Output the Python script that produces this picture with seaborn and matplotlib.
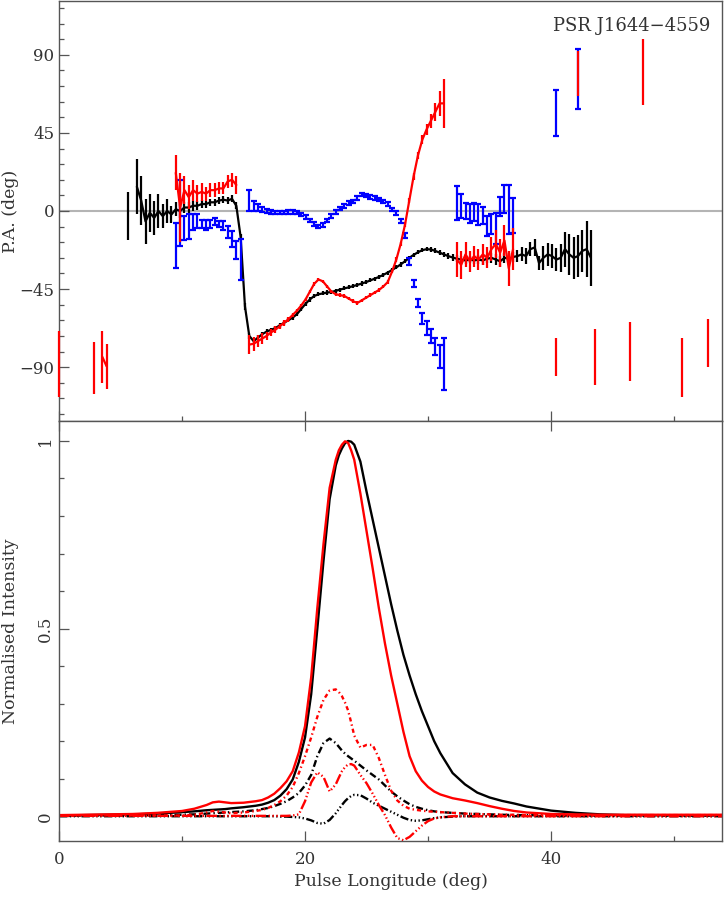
"""
Polarisation profile of PSR J1644-4559 at two frequencies:
position angle swing (top) and normalised Stokes profiles (bottom).
"""

import numpy as np
import pandas as pd
import seaborn as sns
import matplotlib

matplotlib.use("Agg")
from matplotlib import pyplot as plt
from matplotlib.ticker import MultipleLocator

nan = np.nan
BIN_DEG = 360.0 / 1024  # profile bin width in degrees
N_BINS = 154

# ---------------------------------------------------------------- P.A. data
# black: first bin 16, one value per bin
black_pa_start = 16
black_pa = [
    -3, nan, 14, 6, -6, -1, -4, 0, -3, 0,
    -2, 1, 0, 2, 2, 3, 3, 4, 4, 5,
    5, 6, 6.5, 6, 7, 3, -15, -55, -72, -75,
    -73, -71, -69.5, -68.5, -67.5, -66, -64.5, -63, -61.5, -59.5,
    -56.5, -53.5, -51, -49, -48, -47.5, -47, -46.7, -46, -45.3,
    -44.6, -44, -43.3, -42.6, -41.8, -41, -40, -39, -38, -36.8,
    -35.5, -34, -32.5, -30.8, -29, -27, -25.3, -23.8, -22.6, -22,
    -22.2, -23, -24, -25, -26, -26.8, -27.5, -28, -28.5, -28,
    -28.5, -28, -28.5, -27.5, -27, -28, -29, -27, -27.5, -26.5,
    -26, -25, -26, -22, -21, -30, -27, -25, -26, -28,
    -27, -22, -25, -27, -26, -23, -22, -27,
]
black_pa_err = [
    14, nan, 16, 14, 13, 11, 10, 10, 7, 7,
    5, 4, 4, 3, 3, 3, 2.5, 2.5, 2, 2,
    2, 2, 2, 2, 2, 2, 2, 2, 1.5, 1.5,
    1.3, 1.3, 1.3, 1.2, 1.2, 1.2, 1.2, 1.2, 1.2, 1.2,
    1.2, 1.2, 1.2, 1.2, 1.2, 1.2, 1.2, 1.2, 1.2, 1.2,
    1.2, 1.2, 1.2, 1.2, 1.2, 1.2, 1.2, 1.2, 1.2, 1.2,
    1.2, 1.2, 1.2, 1.2, 1.2, 1.2, 1.2, 1.2, 1.2, 1.2,
    1.5, 1.5, 1.5, 1.5, 1.5, 2, 2, 2, 2, 2,
    2, 2.5, 2.5, 2.5, 3, 3, 3, 3, 3, 3,
    3.5, 4, 4.5, 4, 5, 4, 7, 6.5, 7, 6.5,
    8, 10, 12, 12, 12, 12, 16, 16,
]

# red: contiguous runs (first bin, values, errors)
red_pa_runs = [
    (27, [22, 2, 12, 8, 12, 10, 11, 10, 12, 12, 13, 13, 17, 18, 15],
         [10, 20, 8, 7, 6, 5, 5, 4, 4, 4, 3.5, 3.5, 4, 4, 5]),
    (44, [-77, -76.5, -75, -73.5, -72, -70, -68.5, -66.5, -64.5, -62.5,
          -60, -57.5, -54.5, -51, -46.5, -42, -39.5, -40.5, -43.5, -46.5,
          -48, -48.5, -49, -50.5, -52, -53, -51.5, -50, -48.5, -47,
          -45.5, -43.5, -41, -35, -28, -19, -8, 6, 20, 32,
          41, 47, 52, 57, 62, 62],
         [5.5, 4, 3.5, 3, 2.5, 2, 2, 1.5, 1.5, 1.2,
          1.2, 1, 1, 1, 1, 1, 1, 1, 1, 1,
          1, 1, 1, 1, 1, 1, 1, 1, 1, 1,
          1, 1, 1, 1, 1.2, 1.2, 1.5, 1.5, 2, 2,
          2.5, 3, 4, 5, 7, 14]),
    (92, [-28, -31, -25, -29, -26, -28, -25, -27, -22, -19, -24, -17, -33, -22],
         [10, 8, 7, 6, 6, 6, 6, 6, 7, 8, 8, 9, 10, 12]),
]
red_pa_sparse_bins = [0, 8, 10, 11, 115, 120, 124, 132, 135, 144, 150]
red_pa_sparse = [-88, -90.5, -84, -89.5, -84, 79, -84, -81, 80, -90, -76]
red_pa_sparse_err = [19, 15, 15, 13, 11, 13, 16, 17, 19, 17, 14]

# blue: contiguous runs (first bin, values, errors)
blue_pa_runs = [
    (27, [-20, -1, -10, -9, -6.5, -6, -7.5, -8, -7.5, -6, -7.5, -8.5, -12, -16, -22.5, -28],
         [13, 19, 7, 7, 4.6, 4, 2.5, 3, 2.2, 2, 2, 2.5, 3.5, 4.5, 5, 12]),
    (44, [6, 3, 2, 1, 0, -0.5, -1, -1, -1, -0.5,
          -0.5, -1, -2, -3.5, -5.5, -7.5, -9, -8, -5.5, -3,
          -0.5, 1.5, 3, 4.5, 5.5, 7.5, 9.5, 9, 8, 7.5,
          6.5, 5.5, 4, 1, -1, -6, -14, -29, -42, -53,
          -62, -67.5, -72, -78, -84, -88],
         [6, 3, 2, 1.5, 1, 1, 1, 1, 1, 1,
          1, 1, 1, 1, 1, 1, 1, 1, 1, 1,
          1, 1, 1, 1, 1, 1, 1, 1, 1, 1,
          1, 1, 1, 1, 1.2, 1.2, 1.5, 2, 2, 2.5,
          3, 4, 4, 5, 6.5, 15]),
    (92, [4.6, 3, 0, -1.5, -0.5, -2, -2.5, -8.7, -7.5, -10, 2.7, 7, 1, -2.5],
         [10, 7, 4.6, 5.5, 5, 6, 5, 6, 6, 9, 5.5, 8, 14, 10]),
    (115, [56.5], [13.5]),
    (120, [76], [17.5]),
]

# ---------------------------------------------------------- profile data
profile_lon = [
    0, 2, 4, 6, 8, 10, 11, 12, 12.5, 13, 13.5, 14, 15, 16, 16.5, 17, 17.5,
    18, 18.5, 19, 19.5, 20, 20.5, 21, 21.5, 22, 22.5, 22.75, 23, 23.25,
    23.5, 23.75, 24, 24.5,
    25, 25.5, 26, 26.5, 27, 27.5, 28, 28.5, 29, 29.5, 30, 30.5, 31, 32,
    33, 34, 35, 36, 37, 38, 40, 42, 44, 46, 48, 50, 52, 54,
]
i_black = [
    0.002, 0.003, 0.004, 0.005, 0.007, 0.011, 0.013, 0.016, 0.017, 0.018,
    0.019, 0.021, 0.024, 0.028, 0.031, 0.036, 0.043, 0.055, 0.072, 0.098,
    0.145, 0.21, 0.325, 0.50, 0.68, 0.845, 0.935, 0.962, 0.98, 0.994,
    1.0, 0.998, 0.99, 0.945,
    0.865, 0.79, 0.715, 0.64, 0.565, 0.495, 0.43, 0.375, 0.325, 0.28, 0.24,
    0.20, 0.168, 0.115, 0.085, 0.063, 0.05, 0.041, 0.034, 0.026, 0.015,
    0.009, 0.005, 0.003, 0.003, 0.002, 0.002, 0.002,
]
i_red = [
    0.003, 0.004, 0.005, 0.006, 0.009, 0.014, 0.02, 0.03, 0.037, 0.039,
    0.037, 0.035, 0.036, 0.04, 0.043, 0.05, 0.06, 0.075, 0.093, 0.12,
    0.17, 0.24, 0.37, 0.555, 0.725, 0.875, 0.95, 0.975, 0.99, 0.999,
    0.995, 0.975, 0.95, 0.86,
    0.76, 0.66, 0.555, 0.46, 0.375, 0.30, 0.225, 0.16, 0.12, 0.095, 0.078,
    0.066, 0.058, 0.048, 0.042, 0.035, 0.027, 0.02, 0.014, 0.01, 0.006,
    0.005, 0.004, 0.004, 0.004, 0.004, 0.004, 0.004,
]
l_black = [
    0.002, 0.002, 0.002, 0.002, 0.003, 0.004, 0.005, 0.007, 0.008, 0.009,
    0.010, 0.011, 0.013, 0.016, 0.019, 0.022, 0.027, 0.033, 0.04, 0.05,
    0.062, 0.082, 0.11, 0.16, 0.195, 0.207, 0.195, 0.185, 0.175, 0.167,
    0.16, 0.154, 0.148, 0.135,
    0.122, 0.11, 0.098, 0.082, 0.066, 0.053, 0.042, 0.032, 0.025,
    0.02, 0.016, 0.013, 0.011, 0.009, 0.007, 0.006, 0.005, 0.004, 0.003,
    0.003, 0.002, 0.002, 0.002, 0.002, 0.002, 0.002, 0.002, 0.002,
]
l_red = [
    0.002, 0.002, 0.002, 0.002, 0.002, 0.002, 0.004, 0.01, 0.014, 0.012,
    0.01, 0.008, 0.01, 0.014, 0.017, 0.022, 0.03, 0.04, 0.055, 0.078,
    0.115, 0.16, 0.21, 0.265, 0.31, 0.335, 0.338, 0.331, 0.32, 0.303,
    0.282, 0.25, 0.215, 0.183,
    0.19, 0.19, 0.155, 0.11, 0.068, 0.042, 0.028, 0.02, 0.017,
    0.015, 0.013, 0.012, 0.011, 0.009, 0.007, 0.006, 0.005, 0.004, 0.004,
    0.003, 0.003, 0.003, 0.003, 0.003, 0.003, 0.003, 0.003, 0.003,
]
v_black = [
    0.0, 0.0, 0.0, 0.0, 0.0, 0.0, 0.0, 0.0, 0.0, 0.0,
    0.0, 0.0, 0.0, 0.0, 0.0, 0.0, 0.0, -0.001, -0.001, -0.002,
    -0.003, -0.006, -0.011, -0.018, -0.02, -0.01, 0.008, 0.019, 0.03, 0.04,
    0.048, 0.054, 0.057, 0.056,
    0.047, 0.036, 0.028, 0.02, 0.012, 0.004, -0.004, -0.01, -0.012,
    -0.011, -0.008, -0.005, -0.003, -0.001, 0.0, 0.0, 0.0, 0.0, 0.0,
    0.0, 0.0, 0.0, 0.0, 0.0, 0.0, 0.0, 0.0, 0.0,
]
v_red = [
    0.001, 0.001, 0.001, 0.001, 0.001, 0.001, 0.001, 0.001, 0.001, 0.001,
    0.001, 0.001, 0.001, 0.001, 0.001, 0.001, 0.001, 0.001, 0.001, 0.002,
    0.005, 0.04, 0.09, 0.117, 0.105, 0.066, 0.085, 0.103, 0.12, 0.131,
    0.138, 0.139, 0.135, 0.11,
    0.088, 0.06, 0.03, 0.003, -0.03, -0.058, -0.064, -0.055, -0.04,
    -0.025, -0.013, -0.006, -0.003, 0.0, 0.0, 0.0, 0.0, 0.0, 0.0,
    0.0, 0.0, 0.0, 0.0, 0.0, 0.0, 0.0, 0.0, 0.0,
]

# ------------------------------------------------------------------ styles
TEXT = "#333333"
FRAME = "#555555"
BLACK, RED, BLUE = "#000000", "#ff0000", "#0000ff"


def on_grid(runs):
    """Spread (first bin, values, errors) runs onto the full bin grid."""
    val = np.full(N_BINS, np.nan)
    err = np.full(N_BINS, np.nan)
    for start, values, errors in runs:
        val[start:start + len(values)] = values
        err[start:start + len(errors)] = errors
    return np.arange(N_BINS) * BIN_DEG, val, err


def style_axes(ax):
    for side in ax.spines.values():
        side.set_color(FRAME)
        side.set_linewidth(1.0)
    ax.tick_params(which="both", direction="in", colors=FRAME,
                   labelcolor=TEXT, labelsize=12, width=0.9,
                   left=True, right=False, top=False, bottom=True)
    ax.tick_params(which="major", length=7)
    ax.tick_params(which="minor", length=3.6)
    ax.set_xlim(0, 53.9)
    ax.xaxis.set_major_locator(MultipleLocator(20))
    ax.xaxis.set_minor_locator(MultipleLocator(10))


sns.set_theme(style="ticks")
plt.rcParams["font.family"] = ["DejaVu Serif"]
plt.rcParams["lines.scale_dashes"] = False

fig = plt.figure(figsize=(7.25, 9.09), dpi=100)
ax_pa = fig.add_axes([0.0814, 0.5369, 0.9145, 0.462])
ax_pr = fig.add_axes([0.0814, 0.0748, 0.9145, 0.462])

# ------------------------------------------------------------- top panel
style_axes(ax_pa)
ax_pa.axhline(0, color="#b4b4b4", lw=1.5, zorder=0.5)

x, y, e = on_grid([(black_pa_start, black_pa, black_pa_err)])
ax_pa.errorbar(x, y, yerr=e, color=BLACK, lw=1.6, elinewidth=1.6,
               capsize=0, zorder=2)

x, y, e = on_grid(blue_pa_runs)
ax_pa.errorbar(x, y, yerr=e, fmt="none", ecolor=BLUE, elinewidth=1.6,
               capsize=2.3, capthick=1.6, zorder=3)

sparse = [(b, [v], [s]) for b, v, s in
          zip(red_pa_sparse_bins, red_pa_sparse, red_pa_sparse_err)]
x, y, e = on_grid(red_pa_runs + sparse)
red_bars = ax_pa.errorbar(x, y, yerr=e, color=RED, lw=1.6, elinewidth=1.6,
                          capsize=0, zorder=4)
for artist in red_bars.get_children():
    artist.set_clip_on(False)

ax_pa.set_ylim(-121, 121)
ax_pa.yaxis.set_major_locator(MultipleLocator(45))
ax_pa.yaxis.set_minor_locator(MultipleLocator(9))
ax_pa.set_yticks([-90, -45, 0, 45, 90])
ax_pa.tick_params(axis="x", labelbottom=False)
ax_pa.set_ylabel("P.A. (deg)", fontsize=12.5, color=TEXT)
ax_pa.yaxis.set_label_coords(-0.06, 0.5)
ax_pa.text(0.982, 0.962, "PSR J1644\u22124559", transform=ax_pa.transAxes,
           ha="right", va="top", fontsize=13, color=TEXT)

# ---------------------------------------------------------- bottom panel
style_axes(ax_pr)
ax_pr.tick_params(axis="x", top=True)

profiles = pd.DataFrame({
    "lon": profile_lon,
    "I black": i_black, "L black": l_black, "V black": v_black,
    "I red": i_red, "L red": l_red, "V red": v_red,
}).melt(id_vars="lon", var_name="curve", value_name="intensity")

order = ["V black", "L black", "I black", "V red", "L red", "I red"]
palette = {c: (RED if "red" in c else BLACK) for c in order}
dashes = {
    "I black": "", "I red": "",
    "L black": (5, 2.2, 1, 2.2),
    "L red": (3, 2.2, 1, 2.2),
    "V black": (6, 1.8, 1, 1.8, 1, 1.8, 1, 1.8),
    "V red": (7.5, 1.8, 1, 1.8, 1, 1.8, 1, 1.8),
}
sns.lineplot(data=profiles, x="lon", y="intensity", hue="curve",
             style="curve", hue_order=order, style_order=order,
             palette=palette, dashes=dashes, linewidth=1.7,
             estimator=None, errorbar=None, legend=False, ax=ax_pr)

ax_pr.set_ylim(-0.066, 1.053)
ax_pr.set_yticks([0, 0.5, 1])
ax_pr.set_yticklabels(["0", "0.5", "1"])
ax_pr.yaxis.set_minor_locator(MultipleLocator(0.1))
for label in ax_pr.get_yticklabels():
    label.set_rotation(90)
    label.set_va("center")
ax_pr.set_xticks([0, 20, 40])
ax_pr.set_xticklabels(["0", "20", "40"])
ax_pr.tick_params(axis="x", pad=7)
ax_pr.set_xlabel("Pulse Longitude (deg)", fontsize=12.5, color=TEXT,
                 labelpad=4)
ax_pr.set_ylabel("Normalised Intensity", fontsize=12.5, color=TEXT)
ax_pr.yaxis.set_label_coords(-0.06, 0.5)

fig.savefig("out.png", dpi=100)
